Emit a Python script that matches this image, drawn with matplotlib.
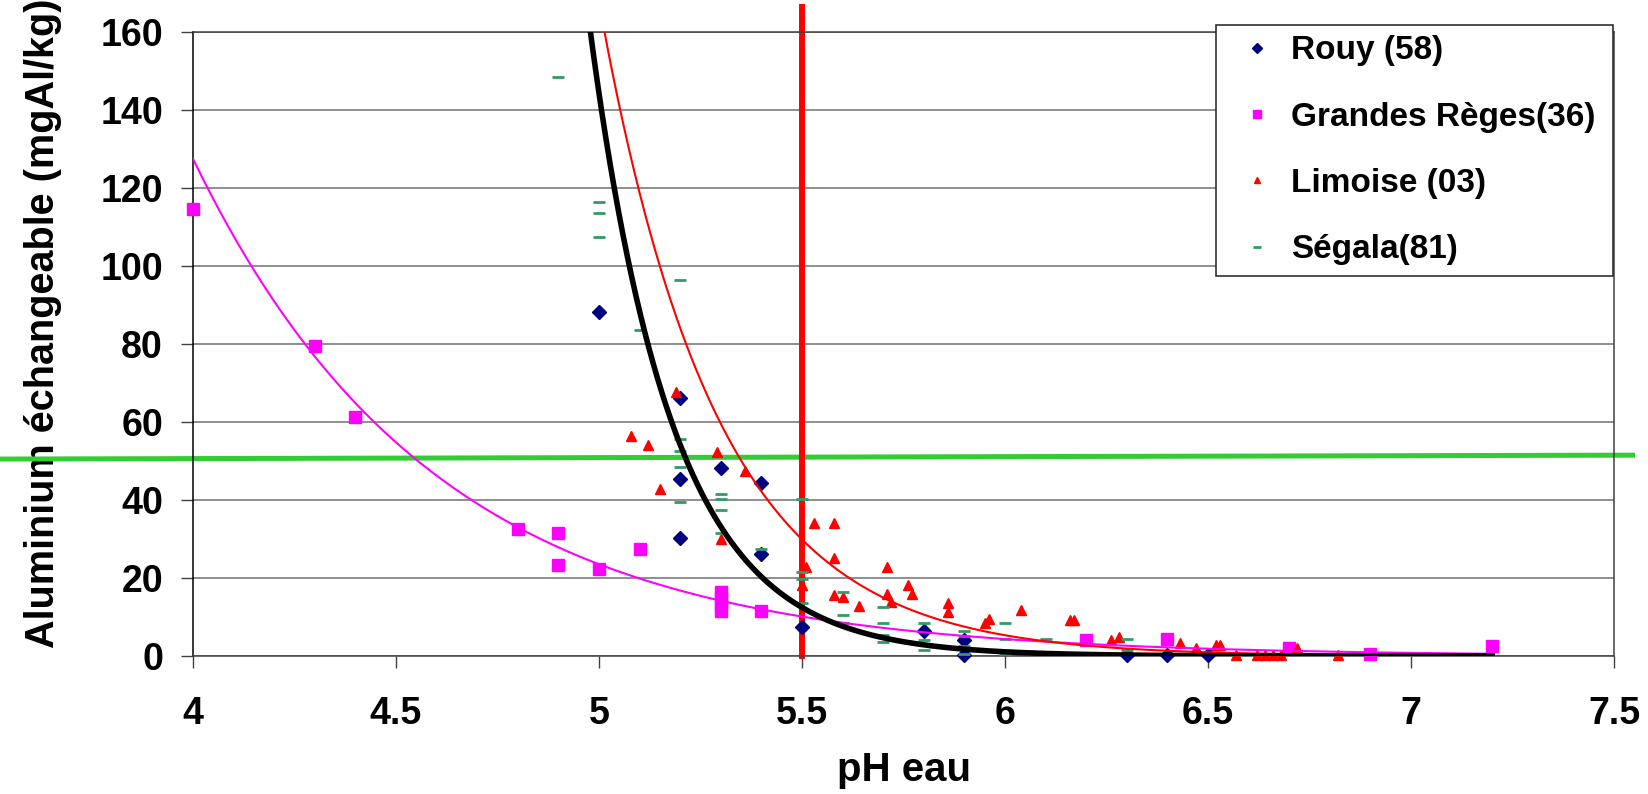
# aluminium echangeable vs pH eau, 4 sites + courbes de tendance (expo)
import numpy as np
import matplotlib.pyplot as plt

plt.rcParams['font.family'] = ['Liberation Sans', 'DejaVu Sans']
plt.rcParams['font.weight'] = 'bold'

# Rouy (58)
rouy_ph = [5.0, 5.2, 5.2, 5.2, 5.3, 5.4, 5.4, 5.5, 5.8, 5.9, 5.9, 6.3, 6.4, 6.5]
rouy_al = [88.3, 66.1, 45.3, 30.2, 48.3, 44.3, 26.2, 7.5, 6.5, 4.1, 0.3, 0.3, 0.3, 0.3]

# Grandes Reges (36)
gr_ph = [4.0, 4.3, 4.4, 4.8, 4.9, 4.9, 5.0, 5.1, 5.3, 5.3, 5.3, 5.3, 5.4,
         6.2, 6.4, 6.7, 6.9, 7.2]
gr_al = [114.5, 79.5, 61.4, 32.5, 31.5, 23.3, 22.3, 27.4, 16.5, 15.0, 13.0, 11.5, 11.5,
         4.0, 4.4, 2.0, 0.6, 2.6]

# Limoise (03)
lim_ph = [5.08, 5.12, 5.15, 5.19, 5.29, 5.30, 5.36, 5.50, 5.51, 5.53,
          5.58, 5.58, 5.58, 5.60, 5.64, 5.71, 5.71, 5.72, 5.76, 5.77,
          5.86, 5.86, 5.95, 5.96, 6.04, 6.16, 6.17, 6.26, 6.28, 6.43,
          6.47, 6.52, 6.53, 6.57, 6.62, 6.64, 6.66, 6.68, 6.72, 6.82]
lim_al = [56.5, 54.1, 42.8, 67.8, 52.2, 29.9, 47.4, 18.2, 22.7, 34.0,
          34.0, 25.2, 15.6, 15.2, 12.9, 22.8, 16.0, 13.9, 18.3, 16.0,
          13.7, 11.4, 8.4, 9.4, 11.8, 9.3, 9.3, 4.0, 4.8, 3.4,
          2.0, 2.9, 2.9, 0.3, 0.3, 0.3, 0.3, 0.3, 2.0, 0.3]

# Segala (81)
seg_ph = [4.9, 5.0, 5.0, 5.0, 5.1, 5.2, 5.2, 5.2, 5.2, 5.2,
          5.3, 5.3, 5.3, 5.3, 5.4, 5.5, 5.5, 5.5, 5.5, 5.6,
          5.6, 5.6, 5.7, 5.7, 5.7, 5.7, 5.8, 5.8, 5.8, 5.9,
          5.9, 5.9, 5.9, 6.0, 6.0, 6.0, 6.1, 6.3, 6.3]
seg_al = [148.5, 116.5, 113.5, 107.5, 83.6, 96.4, 55.6, 52.6, 48.5, 39.5,
          41.5, 40.2, 37.4, 31.5, 27.4, 40.3, 21.6, 19.7, 13.5, 16.3,
          10.5, 8.5, 12.5, 8.5, 5.4, 3.7, 8.5, 4.1, 1.5, 6.4,
          5.1, 2.6, 0.5, 8.5, 4.4, 0.6, 4.4, 4.4, 1.5]

# courbes de tendance : y = c * exp(-k * pH)
trend_black = (6.3e12, 4.9, 4.0, 7.2)     # c, k, pH min, pH max
trend_red = (5.2e9, 3.45, 4.9, 6.82)
trend_mag = (1.1e5, 1.69, 4.0, 7.2)

seuil_al = (50.5, 51.5)   # ligne verte
seuil_ph = 5.5            # ligne rouge

fig = plt.figure(figsize=(16.48, 7.94), dpi=100)
ax = fig.add_axes([0.1171, 0.1738, 0.8623, 0.7859])

ax.set_xlim(4, 7.5)
ax.set_ylim(0, 160)
ax.set_xticks(np.arange(4, 7.51, 0.5))
ax.set_xticklabels(['%g' % t for t in np.arange(4, 7.51, 0.5)])
ax.set_yticks(np.arange(0, 161, 20))
ax.yaxis.grid(True, color='#707070', linewidth=1.1)
ax.set_axisbelow(True)
for s in ax.spines.values():
    s.set_color('#404040')
    s.set_linewidth(1.1)
ax.spines['left'].set_color('black')
ax.tick_params(axis='both', direction='out', length=8.6, width=1, color='#404040',
               labelsize=27)
ax.tick_params(axis='y', pad=13)
ax.tick_params(axis='x', pad=20)

# lignes de reference (debordent du cadre)
ax.plot([-0.136, 1.013], seuil_al, color='#33CC33', linewidth=3.6,
        transform=ax.get_yaxis_transform(), clip_on=False, zorder=2)
ax.plot([seuil_ph, seuil_ph], [0, 1.04], color='#FF0000', linewidth=4.3,
        transform=ax.get_xaxis_transform(), clip_on=False, zorder=2)

# points
ax.plot(rouy_ph, rouy_al, 'D', color='#000080', markersize=7.5, linestyle='none',
        clip_on=False, zorder=3, label='Rouy (58)')
ax.plot(gr_ph, gr_al, 's', color='#FF00FF', markersize=8.5, linestyle='none',
        clip_on=False, zorder=3, label='Grandes Règes(36)')
ax.plot(lim_ph, lim_al, '^', color='#FF0000', markersize=7, linestyle='none',
        clip_on=False, zorder=3, label='Limoise (03)')
ax.plot(seg_ph, seg_al, '_', color='#339966', markersize=8.5, markeredgewidth=2,
        linestyle='none', clip_on=False, zorder=3, label='Ségala(81)')

# tendances
def tendance(p):
    c, k, x0, x1 = p
    xs = np.linspace(x0, x1, 300)
    return xs, c * np.exp(-k * xs)

xs, ys = tendance(trend_mag)
ax.plot(xs, ys, color='#FF00FF', linewidth=1.5, zorder=4)
xs, ys = tendance(trend_red)
ax.plot(xs, ys, color='#FF0000', linewidth=1.5, zorder=4)
xs, ys = tendance(trend_black)
ax.plot(xs, ys, color='black', linewidth=4.0, zorder=5)

ax.set_xlabel('pH eau', fontsize=29, fontweight='bold')
ax.xaxis.set_label_coords(0.5, -0.153)
ax.set_ylabel('Aluminium échangeable (mgAl/kg)', fontsize=28.5, fontweight='bold')
ax.yaxis.set_label_coords(-0.092, 0.533)

leg = ax.legend(loc='upper left', bbox_to_anchor=(0.72, 0, 0.2794, 1.011),
                mode='expand', fontsize=24,
                frameon=True, fancybox=False, framealpha=1, edgecolor='#303030',
                borderpad=0.31, labelspacing=1.06, handlelength=1.85,
                handletextpad=0.1, borderaxespad=0, markerscale=0.62)
leg.get_frame().set_linewidth(1.2)
leg.set_zorder(10)

plt.savefig('out.png', dpi=100)
